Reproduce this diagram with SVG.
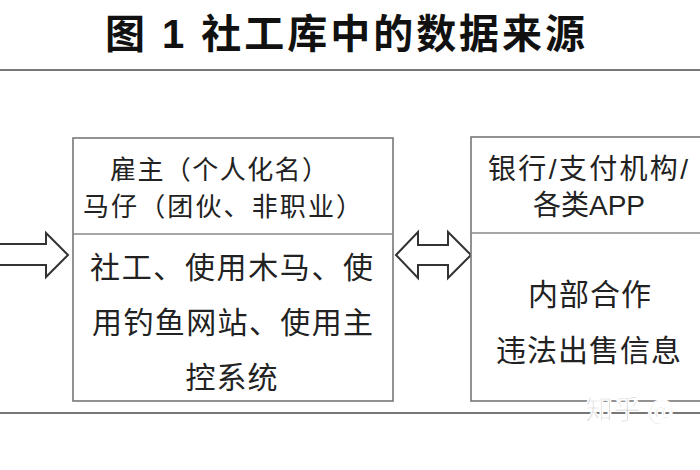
<svg xmlns="http://www.w3.org/2000/svg" width="700" height="470" viewBox="0 0 700 470">
<style>
.title{font-family:"Liberation Sans","Noto Sans CJK SC",sans-serif;font-weight:bold;font-size:40px;fill:#111}
.t{font-family:"Liberation Sans","Noto Sans CJK SC",sans-serif;fill:#222}
.box{fill:#fff;stroke:#777;stroke-width:1.6}
.div{stroke:#888;stroke-width:1.6}
.rule{stroke:#777;stroke-width:2}
.arrow{fill:#fff;stroke:#333;stroke-width:2;stroke-linejoin:miter}
.wm{font-family:"Noto Sans CJK SC",sans-serif;font-size:28px;fill:#bbb;stroke:#fff;stroke-width:1.5}
</style>
<rect width="700" height="470" fill="#fff"/>
<text class="title" x="105" y="48" textLength="480" lengthAdjust="spacing">图 1 社工库中的数据来源</text>
<line class="rule" x1="0" y1="70" x2="700" y2="70"/>
<line class="rule" x1="0" y1="413" x2="700" y2="413"/>
<g id="connectors">
<path class="arrow" d="M0,244 H46 V233 L68,255 L46,277 V265 H0"/>
<path class="arrow" d="M396,255 L418,232 V245 H448 V232 L471,255 L448,278 V265 H418 V278 Z"/>
</g>
<g id="node-middle">
<rect class="box" x="73" y="138" width="320" height="263"/>
<line class="div" x1="73" y1="234" x2="393" y2="234"/>
<text class="t" x="110" y="179" font-size="26" textLength="218" lengthAdjust="spacing">雇主（个人化名）</text>
<text class="t" x="83" y="216" font-size="26" textLength="279" lengthAdjust="spacing">马仔（团伙、非职业）</text>
<text class="t" x="90" y="278" font-size="30" textLength="283" lengthAdjust="spacing">社工、使用木马、使</text>
<text class="t" x="92" y="333" font-size="30" textLength="281" lengthAdjust="spacing">用钓鱼网站、使用主</text>
<text class="t" x="232" y="388" font-size="30" text-anchor="middle" letter-spacing="1">控系统</text>
</g>
<g id="node-right">
<rect class="box" x="471" y="137" width="240" height="264"/>
<line class="div" x1="471" y1="233" x2="700" y2="233"/>
<text class="t" x="488" y="179" font-size="28" textLength="200" lengthAdjust="spacing">银行/支付机构/</text>
<text class="t" x="589" y="215" font-size="28" text-anchor="middle">各类APP</text>
<text class="t" x="590" y="305" font-size="30" text-anchor="middle" letter-spacing="1">内部合作</text>
<text class="t" x="589" y="361" font-size="30" text-anchor="middle" letter-spacing="1">违法出售信息</text>
</g>
<text class="wm" x="585" y="420">知乎 @</text>
</svg>
